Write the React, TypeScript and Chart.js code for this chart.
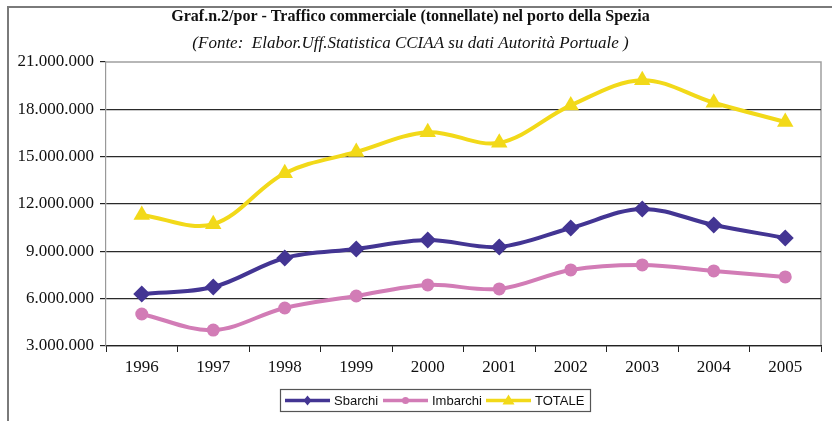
import React, { useEffect, useRef } from "react";
import { Chart, registerables } from "chart.js";

Chart.register(...registerables);

const years = ["1996", "1997", "1998", "1999", "2000", "2001", "2002", "2003", "2004", "2005"];
const sbarchi = [6300000, 6740000, 8580000, 9150000, 9720000, 9280000, 10480000, 11690000, 10670000, 9850000];
const imbarchi = [5030000, 4010000, 5410000, 6170000, 6870000, 6620000, 7820000, 8140000, 7760000, 7380000];
const totale = [11310000, 10720000, 13950000, 15300000, 16550000, 15880000, 18250000, 19850000, 18420000, 17200000];
const yTicks = [3000000, 6000000, 9000000, 12000000, 15000000, 18000000, 21000000];

const titleText = "Graf.n.2/por - Traffico commerciale (tonnellate) nel porto della Spezia";
const subtitleText = "(Fonte:  Elabor.Uff.Statistica CCIAA su dati Autorità Portuale )";

const fmt = (v: number) => String(Math.round(v)).replace(/\B(?=(\d{3})+(?!\d))/g, ".");

const frame = {
  id: "frame",
  beforeDraw(chart: any) {
    const ctx = chart.ctx;
    ctx.save();
    ctx.strokeStyle = "#7a7a7a";
    ctx.lineWidth = 2;
    ctx.beginPath();
    ctx.moveTo(8, 440);
    ctx.lineTo(8, 7);
    ctx.lineTo(840, 7);
    ctx.stroke();
    const a = chart.chartArea;
    ctx.strokeStyle = "#a0a0a0";
    ctx.lineWidth = 1.5;
    ctx.beginPath();
    ctx.moveTo(a.left, a.top);
    ctx.lineTo(a.right, a.top);
    ctx.lineTo(a.right, a.bottom);
    ctx.stroke();
    ctx.restore();
  },
};

const legendBox = {
  id: "legendBox",
  afterDraw(chart: any) {
    const ctx = chart.ctx;
    const ds = chart.data.datasets;
    const x0 = 280, y0 = 389, w = 310, h = 22;
    ctx.save();
    ctx.strokeStyle = "#555";
    ctx.lineWidth = 1.2;
    ctx.strokeRect(x0 + 0.5, y0 + 0.5, w, h);
    const starts = [285, 383, 486];
    const cy = y0 + h / 2 + 0.5;
    ctx.font = "13px 'Liberation Sans', Arial, sans-serif";
    ctx.textBaseline = "middle";
    ds.forEach((d: any, i: number) => {
      const sx = starts[i];
      ctx.strokeStyle = d.borderColor;
      ctx.lineWidth = 3.5;
      ctx.beginPath();
      ctx.moveTo(sx, cy);
      ctx.lineTo(sx + 45, cy);
      ctx.stroke();
      ctx.fillStyle = d.borderColor;
      const mx = sx + 22.5;
      ctx.beginPath();
      if (d.pointStyle === "rectRot") {
        ctx.moveTo(mx, cy - 5);
        ctx.lineTo(mx + 4, cy);
        ctx.lineTo(mx, cy + 5);
        ctx.lineTo(mx - 4, cy);
      } else if (d.pointStyle === "circle") {
        ctx.arc(mx, cy, 3.5, 0, Math.PI * 2);
      } else {
        ctx.moveTo(mx, cy - 6);
        ctx.lineTo(mx + 6, cy + 4);
        ctx.lineTo(mx - 6, cy + 4);
      }
      ctx.closePath();
      ctx.fill();
      ctx.fillStyle = "#111";
      ctx.fillText(d.label, sx + 49, cy + 1);
    });
    ctx.restore();
  },
};

export default function App() {
  const ref = useRef<HTMLCanvasElement>(null);
  useEffect(() => {
    document.body.style.margin = "0";
    const serif = "'Liberation Serif', 'Times New Roman', serif";
    const chart = new Chart(ref.current!, {
      type: "line",
      data: {
        labels: years,
        datasets: [
          {
            label: "Sbarchi",
            data: sbarchi,
            borderColor: "#433593",
            backgroundColor: "#433593",
            borderWidth: 4,
            pointStyle: "rectRot",
            pointRadius: 8.5,
            pointBorderWidth: 0,
            tension: 0.35,
          },
          {
            label: "Imbarchi",
            data: imbarchi,
            borderColor: "#d27cb6",
            backgroundColor: "#d27cb6",
            borderWidth: 4,
            pointStyle: "circle",
            pointRadius: 6.5,
            pointBorderWidth: 0,
            tension: 0.35,
          },
          {
            label: "TOTALE",
            data: totale,
            borderColor: "#f2d919",
            backgroundColor: "#f2d919",
            borderWidth: 4,
            pointStyle: "triangle",
            pointRadius: 9.5,
            pointBorderWidth: 0,
            tension: 0.35,
          },
        ],
      },
      options: {
        animation: false,
        responsive: false,
        maintainAspectRatio: false,
        layout: { padding: { left: 0, right: 11, top: 0, bottom: 0 } },
        plugins: {
          legend: { display: false },
          tooltip: { enabled: false },
          title: {
            display: true,
            text: titleText,
            color: "#111",
            font: { family: serif, size: 16, weight: "bold", lineHeight: 1.125 },
            padding: { top: 8, bottom: 9 },
          },
          subtitle: {
            display: true,
            text: subtitleText,
            color: "#111",
            font: { family: serif, size: 17, style: "italic", lineHeight: 1.06 },
            padding: { top: 0, bottom: 9 },
          },
        },
        scales: {
          x: {
            offset: true,
            border: { display: true, color: "#222", width: 1.2 },
            grid: {
              offset: true,
              drawOnChartArea: false,
              drawTicks: true,
              tickLength: 6,
              color: "#222",
            },
            ticks: {
              color: "#111",
              font: { family: serif, size: 17 },
              padding: 5,
              maxRotation: 0,
            },
            afterFit(scale: any) {
              scale.height = 75;
            },
          },
          y: {
            min: 3000000,
            max: 21000000,
            border: { display: true, color: "#999", width: 1.2 },
            grid: {
              color: (c: any) => (c.tick && c.tick.value === 21000000 ? "rgba(0,0,0,0)" : "#2a2a2a"),
              lineWidth: 1.2,
              drawTicks: true,
              tickLength: 6,
              tickColor: "#222",
            },
            afterBuildTicks(scale: any) {
              scale.ticks = yTicks.map((v) => ({ value: v }));
            },
            ticks: {
              color: "#111",
              font: { family: serif, size: 17 },
              padding: 6,
              callback: (v: any) => fmt(Number(v)),
            },
            afterFit(scale: any) {
              scale.width = 106;
            },
          },
        },
      },
      plugins: [frame, legendBox],
    });
    return () => chart.destroy();
  }, []);
  return (
    <div style={{ position: "absolute", left: 0, top: 0, width: 832, height: 421 }}>
      <canvas ref={ref} width={832} height={421} style={{ display: "block", width: 832, height: 421 }} />
    </div>
  );
}
